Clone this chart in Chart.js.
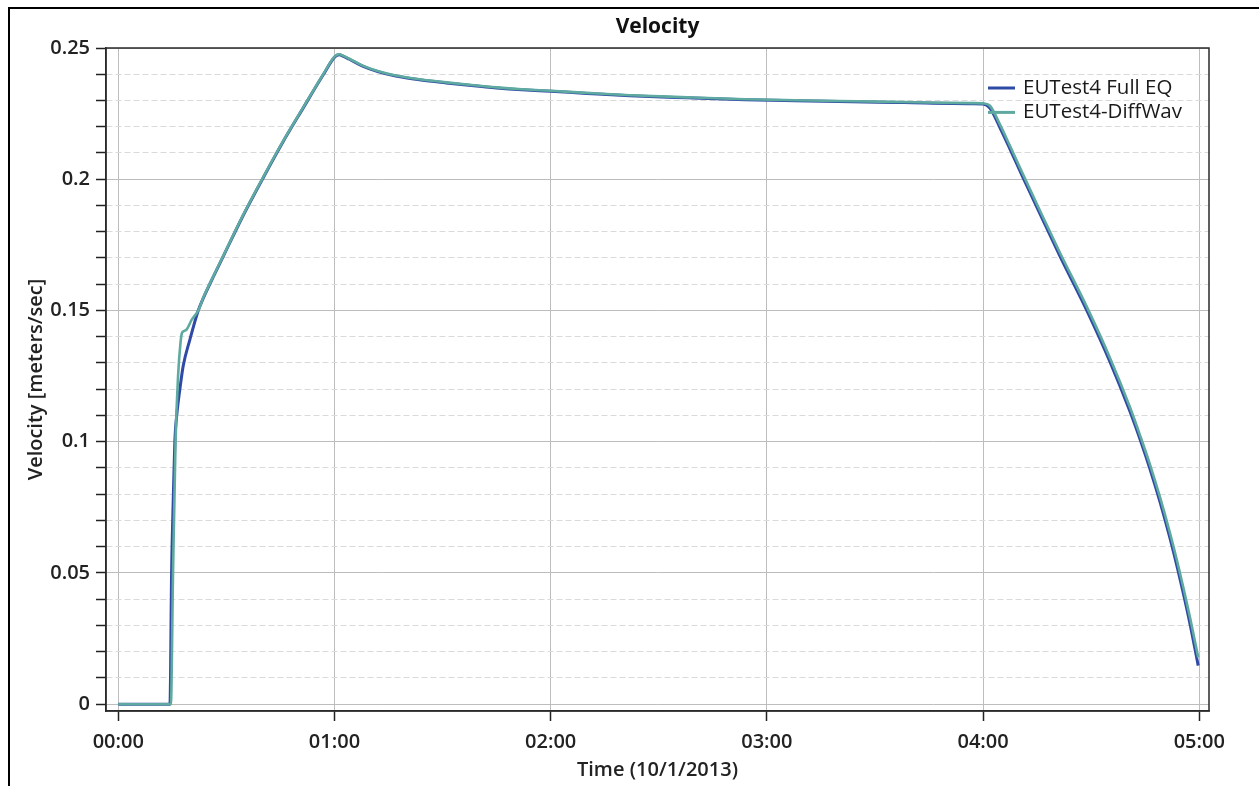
<!DOCTYPE html>
<html>
<head>
<meta charset="utf-8">
<script src="https://cdn.jsdelivr.net/npm/chart.js@4.4.1/dist/chart.umd.min.js"></script>
<style>
  body { margin: 0; background: #fff; }
  #frame { position: absolute; left: 8px; top: 7px; width: 1251px; height: 779px;
           border-left: 2px solid #000; border-top: 2px solid #000; box-sizing: border-box; }
  #wrap { position: absolute; left: 0; top: 0; width: 1259px; height: 786px; }
</style>
</head>
<body>
<div id="frame"></div>
<div id="wrap"><canvas id="velChart"></canvas></div>
<script>
// time in minutes after 00:00 on 10/1/2013, velocity in m/s
const timesEQ = [0, 14.35, 14.8, 15.3, 15.7, 16.3, 17.1, 18.0, 19.9, 22.2, 23.6, 26.3, 29.1, 34.6, 40.2, 45.7, 51.3, 56.8, 60.1, 61.3, 62.5, 64, 68, 72, 77, 84, 91, 98, 105, 112, 120, 130, 142, 158, 174, 188, 200, 218, 237, 240, 241.9, 244.7, 247.5, 250.8, 255.8, 261.3, 269.1, 275.2, 280.8, 283.8, 286.3, 289.1, 291.8, 294.0, 297.4, 299.7];
const velEQ = [0, 0, 0.05, 0.08, 0.100, 0.111, 0.120, 0.1287, 0.139, 0.150, 0.1547, 0.1626, 0.1705, 0.1860, 0.2005, 0.2142, 0.2271, 0.2396, 0.2466, 0.2474, 0.2468, 0.2458, 0.2430, 0.2410, 0.2393, 0.2378, 0.2367, 0.2357, 0.2348, 0.2341, 0.2335, 0.2327, 0.2318, 0.2310, 0.2303, 0.2299, 0.2296, 0.2292, 0.2288, 0.2287, 0.2271, 0.2196, 0.2114, 0.2015, 0.1868, 0.1708, 0.1491, 0.1305, 0.1114, 0.1000, 0.0897, 0.0771, 0.0636, 0.0515, 0.0308, 0.0147];

const timesDW = [0, 14.6, 15.2, 15.9, 16.6, 17.3, 17.7, 18.3, 19.0, 20.4, 22.2, 23.6, 26.3, 29.1, 34.6, 40.2, 45.7, 51.3, 56.8, 60.1, 61.3, 62.5, 64, 68, 72, 77, 84, 91, 98, 105, 112, 120, 130, 142, 158, 174, 188, 200, 218, 237, 240, 241.9, 244.7, 247.5, 250.8, 255.8, 261.3, 269.1, 275.2, 280.8, 283.8, 286.3, 289.1, 291.8, 294.0, 297.4, 299.7];
const velDW = [0, 0, 0.05, 0.100, 0.125, 0.138, 0.1415, 0.1422, 0.1428, 0.1465, 0.150, 0.1549, 0.1628, 0.1707, 0.1862, 0.2007, 0.2144, 0.2273, 0.2398, 0.2468, 0.2476, 0.2470, 0.2460, 0.2432, 0.2412, 0.2395, 0.2380, 0.2369, 0.2359, 0.2350, 0.2343, 0.2337, 0.2329, 0.2320, 0.2312, 0.2305, 0.2301, 0.2298, 0.2294, 0.2290, 0.2289, 0.2280, 0.2208, 0.2126, 0.2027, 0.1880, 0.1721, 0.1505, 0.1320, 0.1130, 0.1015, 0.0914, 0.0789, 0.0656, 0.0537, 0.0332, 0.0178];

const seriesNames = ['EUTest4 Full EQ', 'EUTest4-DiffWav'];
const seriesColors = ['#2f4aa6', '#5ea9a0'];
const hourTicks = [0, 60, 120, 180, 240, 300];
const velMajorTicks = [0, 0.05, 0.1, 0.15, 0.2, 0.25];

const fontFamily = '"Open Sans", "Noto Sans", sans-serif';

function fmtTime(m) {
    let h = Math.floor(m / 60), mm = Math.round(m % 60);
    return String(h).padStart(2, '0') + ':' + String(mm).padStart(2, '0');
}
function isMajor(v) {
    return velMajorTicks.some(t => Math.abs(t - v) < 1e-6);
}

// frame around plot + legend in the top right corner
const framePlugin = {
    id: 'plotFrame',
    afterDraw(chart) {
        const {ctx, chartArea: a} = chart;
        ctx.save();
        ctx.strokeStyle = '#2a2a2a';
        ctx.lineWidth = 1.5;
        ctx.strokeRect(a.left, a.top, a.right - a.left, a.bottom - a.top);

        ctx.font = '20.5px ' + fontFamily;
        ctx.textBaseline = 'middle';
        ctx.fillStyle = '#1a1a1a';
        chart.data.datasets.forEach((ds, i) => {
            let x0 = a.right - 221, y = a.top + 40 + i * 24.4;
            ctx.strokeStyle = ds.borderColor;
            ctx.lineWidth = 3;
            ctx.beginPath();
            ctx.moveTo(x0, y);
            ctx.lineTo(x0 + 27, y);
            ctx.stroke();
            ctx.fillText(ds.label, x0 + 35, y);
        });
        ctx.restore();
    }
};

let ctx = document.getElementById('velChart').getContext('2d');
window.myChart = new Chart(ctx, {
    type: 'line',
    data: {
        datasets: [
            {
                label: seriesNames[0],
                data: timesEQ.map((t, i) => ({x: t, y: velEQ[i]})),
                borderColor: seriesColors[0],
                borderWidth: 3,
                pointRadius: 0,
                order: 1,
                cubicInterpolationMode: 'monotone'
            },
            {
                label: seriesNames[1],
                data: timesDW.map((t, i) => ({x: t, y: velDW[i]})),
                borderColor: seriesColors[1],
                borderWidth: 2.6,
                pointRadius: 0,
                order: 0,
                cubicInterpolationMode: 'monotone'
            }
        ]
    },
    options: {
        responsive: true,
        maintainAspectRatio: false,
        animation: false,
        layout: { padding: { left: 0, right: 50, top: 0, bottom: 0 } },
        plugins: {
            legend: { display: false },
            tooltip: { enabled: false },
            title: {
                display: true,
                text: 'Velocity',
                fullSize: false,
                color: '#111',
                font: { family: fontFamily, size: 21, weight: 'bold' },
                padding: { top: 14.4, bottom: 8.4 }
            }
        },
        scales: {
            x: {
                type: 'linear',
                min: -3.4,
                max: 302.7,
                afterBuildTicks: axis => { axis.ticks = hourTicks.map(v => ({value: v})); },
                afterFit: axis => { axis.height = 75; },
                ticks: {
                    callback: v => fmtTime(v),
                    autoSkip: false,
                    color: '#222',
                    padding: 9,
                    maxRotation: 0,
                    font: { family: fontFamily, size: 20, weight: '600' }
                },
                grid: { color: '#bdbdbd', lineWidth: 1, tickLength: 10, tickColor: '#222', tickWidth: 1.5 },
                border: { color: '#2a2a2a', width: 1.5 },
                title: {
                    display: true,
                    text: 'Time (10/1/2013)',
                    color: '#222',
                    font: { family: fontFamily, size: 20, weight: '600' },
                    padding: { top: 0, bottom: 4 }
                }
            },
            y: {
                min: -0.0026,
                max: 0.25,
                afterBuildTicks: axis => {
                    let t = [];
                    for (let i = 0; i <= 25; i++) t.push({value: i / 100});
                    axis.ticks = t;
                },
                afterFit: axis => { axis.width = 106; },
                ticks: {
                    callback: v => isMajor(v) ? String(+v.toFixed(2)) : '',
                    autoSkip: false,
                    color: '#222',
                    padding: 6,
                    font: { family: fontFamily, size: 20, weight: '600' }
                },
                grid: {
                    color: c => (c.tick && isMajor(c.tick.value)) ? '#bdbdbd' : '#dadada',
                    lineWidth: 1,
                    tickLength: 10,
                    tickColor: '#222',
                    tickWidth: 1.5
                },
                border: {
                    color: '#2a2a2a',
                    width: 1.5,
                    dash: c => (c.tick && !isMajor(c.tick.value)) ? [6, 3] : []
                },
                title: {
                    display: true,
                    text: 'Velocity [meters/sec]',
                    color: '#222',
                    font: { family: fontFamily, size: 20, weight: '600' },
                    padding: { top: 24, bottom: 0 }
                }
            }
        }
    },
    plugins: [framePlugin]
});
</script>
</body>
</html>
